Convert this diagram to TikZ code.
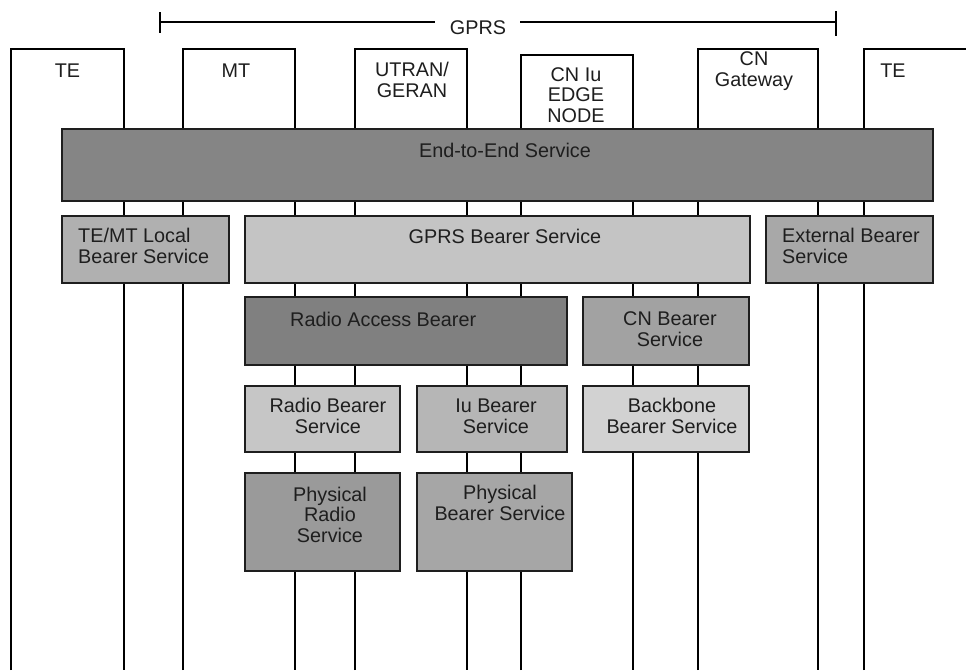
\documentclass[tikz,border=0pt]{standalone}
\usepackage{fontspec}
\setmainfont{Liberation Sans}
\usetikzlibrary{fit}
\definecolor{cE}{HTML}{858585}
\definecolor{cTM}{HTML}{B0B0B0}
\definecolor{cGB}{HTML}{C4C4C4}
\definecolor{cEx}{HTML}{A8A8A8}
\definecolor{cRA}{HTML}{808080}
\definecolor{cCN}{HTML}{A2A2A2}
\definecolor{cRB}{HTML}{C6C6C6}
\definecolor{cIu}{HTML}{B6B6B6}
\definecolor{cBB}{HTML}{D2D2D2}
\definecolor{cPR}{HTML}{9A9A9A}
\definecolor{cPB}{HTML}{A6A6A6}
\definecolor{ink}{HTML}{1E1E1E}
\begin{document}
\begin{tikzpicture}[x=1pt,y=-1pt,
  vline/.style={line width=1.3pt, draw=black},
  box/.style={draw=ink, line width=1.5pt, inner sep=0pt, outer sep=0pt},
  txt/.style={font=\fontsize{19.8}{20.5}\selectfont, inner sep=0pt, text=ink},
]
\useasboundingbox[fill=white] (0,0) rectangle (966,670);

% GPRS span
\node[txt, anchor=base] (gprs) at (478,34) {GPRS};
\coordinate (gl) at (160,22);
\coordinate (gr) at (836,22);
\coordinate (gl2) at (435,22);
\coordinate (gr2) at (520,22);
\draw[line width=1.3pt] (160,12) -- (160,33);
\draw[line width=1.3pt] (836,11) -- (836,36);
\draw[line width=1.2pt] (gl) -- (gl2);
\draw[line width=1.2pt] (gr2) -- (gr);

% columns
\draw[vline] (11,670) |- (124,49) -- (124,670);
\draw[vline] (183,670) |- (295,49) -- (295,670);
\draw[vline] (355,670) |- (467,49) -- (467,670);
\draw[vline] (521,670) |- (633,55) -- (633,670);
\draw[vline] (698,670) |- (818,49) -- (818,670);
\draw[vline] (864,670) |- (970,49);

\node[txt, anchor=base] (te1) at (67.5,77) {TE};
\node[txt, anchor=base] (mt) at (236,77) {MT};
\node[txt, anchor=base, align=center] (utran) at (412,97) {UTRAN/\\GERAN};
\node[txt, anchor=base, align=center] (cniu) at (576,122) {CN Iu\\EDGE\\NODE};
\node[txt, anchor=base, align=center] (cngw) at (754,86) {CN\\Gateway};
\node[txt, anchor=base] (te2) at (893,77) {TE};

% boxes
\node[box, fill=cE, fit={(62,129) (933,201)}] (e2e) {};
\node[box, fill=cTM, fit={(62,216) (229,283)}] (tmlocal) {};
\node[box, fill=cGB, fit={(245,216) (750,283)}] (gprsb) {};
\node[box, fill=cEx, fit={(766,216) (933,283)}] (ext) {};
\node[box, fill=cRA, fit={(245,297) (567,365)}] (rab) {};
\node[box, fill=cCN, fit={(583,297) (749,365)}] (cnb) {};
\node[box, fill=cRB, fit={(245,386) (400,452)}] (rb) {};
\node[box, fill=cIu, fit={(417,386) (567,452)}] (iub) {};
\node[box, fill=cBB, fit={(583,386) (749,452)}] (bbb) {};
\node[box, fill=cPR, fit={(245,473) (400,571)}] (prs) {};
\node[box, fill=cPB, fit={(417,473) (572,571)}] (pbs) {};

% labels
\node[txt, anchor=base] (t-e2e) at (505,157) {End-to-End Service};
\node[txt, anchor=base west, align=left] (t-tm) at (78,263) {TE/MT Local\\Bearer Service};
\node[txt, anchor=base] (t-gb) at (505,243) {GPRS Bearer Service};
\node[txt, anchor=base west, align=left] (t-ex) at (782,263) {External Bearer\\Service};
\node[txt, anchor=base west] (t-ra) at (290,326) {Radio Access Bearer};
\node[txt, anchor=base, align=center] (t-cn) at (670,346) {CN Bearer\\Service};
\node[txt, anchor=base, align=center] (t-rb) at (328,433) {Radio Bearer\\Service};
\node[txt, anchor=base, align=center] (t-iu) at (496,433) {Iu Bearer\\Service};
\node[txt, anchor=base, align=center] (t-bb) at (672,433) {Backbone\\Bearer Service};
\node[txt, anchor=base, align=center] (t-pr) at (330,542) {Physical\\Radio\\Service};
\node[txt, anchor=base, align=center] (t-pb) at (500,520) {Physical\\Bearer Service};
\end{tikzpicture}
\end{document}
